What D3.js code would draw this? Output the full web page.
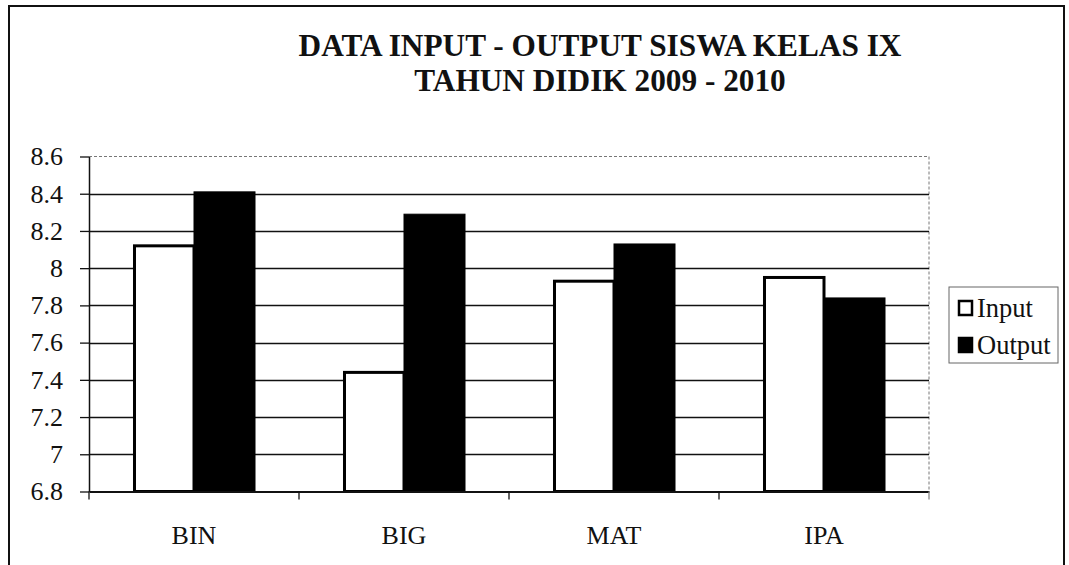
<!DOCTYPE html>
<html><head><meta charset="utf-8">
<script src="https://cdn.jsdelivr.net/npm/d3@7"></script>
<style>
html,body{margin:0;padding:0;background:#fff;}
svg{display:block;font-family:"Liberation Serif","Times New Roman",serif;}
svg text{font-family:"Liberation Serif","Times New Roman",serif !important;}
</style></head>
<body><svg id="chart" width="1069" height="565"></svg>
<script>
const categories = ["BIN", "BIG", "MAT", "IPA"];
const seriesNames = ["Input", "Output"];
const inputValues = [8.12, 7.44, 7.93, 7.95];
const outputValues = [8.41, 8.29, 8.13, 7.84];
const yTicks = [6.8, 7, 7.2, 7.4, 7.6, 7.8, 8, 8.2, 8.4, 8.6];
const titleLines = ["DATA INPUT - OUTPUT SISWA KELAS IX", "TAHUN DIDIK 2009 - 2010"];

const svg = d3.select("#chart");
const plot = {left: 89, right: 929, top: 156.5, bottom: 491.5};

// outer border
svg.append("rect").attr("x", 9).attr("y", 6).attr("width", 1055).attr("height", 620)
  .attr("fill", "#fff").attr("stroke", "#111").attr("stroke-width", 2);

const x = d3.scaleBand().domain(categories).range([plot.left, plot.right]).paddingInner(0.419).paddingOuter(0.2095);
const xs = d3.scaleBand().domain(seriesNames).range([0, x.bandwidth()]);
const y = d3.scaleLinear().domain([6.8, 8.6]).range([plot.bottom, plot.top]);

// plot area border (top & right, grey dotted)
svg.append("line").attr("x1", plot.left).attr("x2", plot.right).attr("y1", y(8.6)).attr("y2", y(8.6))
  .attr("stroke", "#777").attr("stroke-width", 1).attr("stroke-dasharray", "3,2");
svg.append("line").attr("x1", plot.right).attr("x2", plot.right).attr("y1", y(8.6)).attr("y2", plot.bottom)
  .attr("stroke", "#777").attr("stroke-width", 1).attr("stroke-dasharray", "3,2");

// gridlines
svg.append("g").selectAll("line").data(yTicks.filter(t => t < 8.6 && t > 6.8)).join("line")
  .attr("x1", plot.left).attr("x2", plot.right)
  .attr("y1", d => Math.round(y(d)) + 0.5).attr("y2", d => Math.round(y(d)) + 0.5)
  .attr("stroke", "#111").attr("stroke-width", 1.3);

// y axis
const yAxis = svg.append("g").attr("transform", `translate(${plot.left},0)`)
  .call(d3.axisLeft(y).tickValues(yTicks).tickSizeInner(9).tickSizeOuter(0).tickPadding(17)
    .tickFormat(d => d3.format("")(+d.toFixed(1))));
yAxis.attr("font-family", null);
yAxis.select(".domain").attr("stroke", "#111").attr("stroke-width", 1.5);
yAxis.selectAll(".tick line").attr("stroke", "#111").attr("stroke-width", 1.3);
yAxis.selectAll("text").attr("font-size", 26).attr("fill", "#111");

// bars
const data = categories.map((c, i) => ({cat: c, vals: [
  {s: "Input", v: inputValues[i]}, {s: "Output", v: outputValues[i]}]}));
const groups = svg.append("g").selectAll("g").data(data).join("g")
  .attr("transform", d => `translate(${x(d.cat)},0)`);
groups.selectAll("rect").data(d => d.vals).join("rect")
  .attr("x", d => xs(d.s) + (d.s === "Input" ? 1.5 : 0))
  .attr("width", d => xs.bandwidth() - (d.s === "Input" ? 1.5 : 0))
  .attr("y", d => y(d.v))
  .attr("height", d => plot.bottom - y(d.v))
  .attr("fill", d => d.s === "Input" ? "#fff" : "#000")
  .attr("stroke", "#000").attr("stroke-width", d => d.s === "Input" ? 3 : 1);

// x axis
const xAxis = svg.append("g").attr("transform", `translate(0,${plot.bottom})`)
  .call(d3.axisBottom(x).tickSize(0).tickPadding(34));
xAxis.attr("font-family", null);
xAxis.select(".domain").attr("stroke", "#111").attr("stroke-width", 2);
xAxis.selectAll("text").attr("font-size", 26).attr("fill", "#111");
// category boundary ticks
const bounds = categories.map(c => x(c) - x.step() * x.paddingInner() / 2).concat([plot.right]);
svg.append("g").selectAll("line").data(bounds).join("line")
  .attr("x1", d => d).attr("x2", d => d).attr("y1", plot.bottom).attr("y2", plot.bottom + 8)
  .attr("stroke", (d, i) => i === bounds.length - 1 ? "#888" : "#111").attr("stroke-width", 1.3);

// title
svg.append("g").selectAll("text").data(titleLines).join("text")
  .attr("x", 600).attr("y", (d, i) => 56 + i * 35)
  .attr("text-anchor", "middle").attr("font-weight", "bold").attr("font-size", 31.3)
  .attr("fill", "#111").text(d => d);

// legend
const lg = svg.append("g").attr("transform", "translate(949,287)");
lg.append("rect").attr("x", 0).attr("y", 0).attr("width", 109).attr("height", 76)
  .attr("fill", "#fff").attr("stroke", "#666").attr("stroke-width", 1);
const items = lg.selectAll("g").data(seriesNames).join("g")
  .attr("transform", (d, i) => `translate(9,${21 + i * 37})`);
items.append("rect").attr("x", 1).attr("y", -7).attr("width", 13).attr("height", 14)
  .attr("fill", d => d === "Input" ? "#fff" : "#000").attr("stroke", "#000").attr("stroke-width", 2.5);
items.append("text").attr("x", 19).attr("y", 9).attr("font-size", 26.5).attr("fill", "#111").text(d => d);
</script></body></html>
